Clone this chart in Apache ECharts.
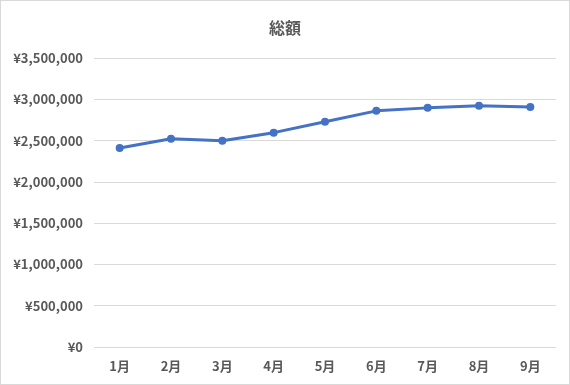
<!DOCTYPE html>
<html>
<head>
<meta charset="utf-8">
<script src="https://cdn.jsdelivr.net/npm/echarts@6/dist/echarts.min.js"></script>
<style>
html,body{margin:0;padding:0;background:#fff;}
#c{position:absolute;left:0;top:0;width:568px;height:383px;border:1px solid #d9d9d9;}
</style>
</head>
<body>
<div id="c"></div>
<script>
var categories = ['1月','2月','3月','4月','5月','6月','7月','8月','9月'];
var totals = [2410000, 2522000, 2497000, 2596000, 2728000, 2860000, 2896000, 2922000, 2908000];
var yTicks = {min: 0, max: 3500000, interval: 500000};

var chart = echarts.init(document.getElementById('c'));
var font = '"Noto Sans CJK JP", "Noto Sans", sans-serif';
chart.setOption({
  animation: false,
  title: {
    text: '総額', left: 'center', top: 14,
    textStyle: {fontFamily: font, fontSize: 16, fontWeight: 'bold', color: '#595959'}
  },
  grid: {left: 93, right: 13, top: 57, bottom: 37, containLabel: false},
  xAxis: {
    type: 'category', data: categories, boundaryGap: true,
    axisLine: {show: false}, axisTick: {show: false},
    axisLabel: {fontFamily: font, fontSize: 13, fontWeight: 'bold', color: '#595959', margin: 13}
  },
  yAxis: {
    type: 'value', min: yTicks.min, max: yTicks.max, interval: yTicks.interval,
    axisLine: {show: false}, axisTick: {show: false},
    splitLine: {lineStyle: {color: '#d9d9d9', width: 1}},
    axisLabel: {
      fontFamily: font, fontSize: 13, fontWeight: 'bold', color: '#595959', margin: 11,
      formatter: function (v) { return '¥' + v.toLocaleString('en-US'); }
    }
  },
  series: [{
    type: 'line', data: totals,
    symbol: 'circle', symbolSize: 8,
    lineStyle: {color: '#4472C4', width: 3},
    itemStyle: {color: '#4472C4'}
  }]
});
</script>
</body>
</html>
